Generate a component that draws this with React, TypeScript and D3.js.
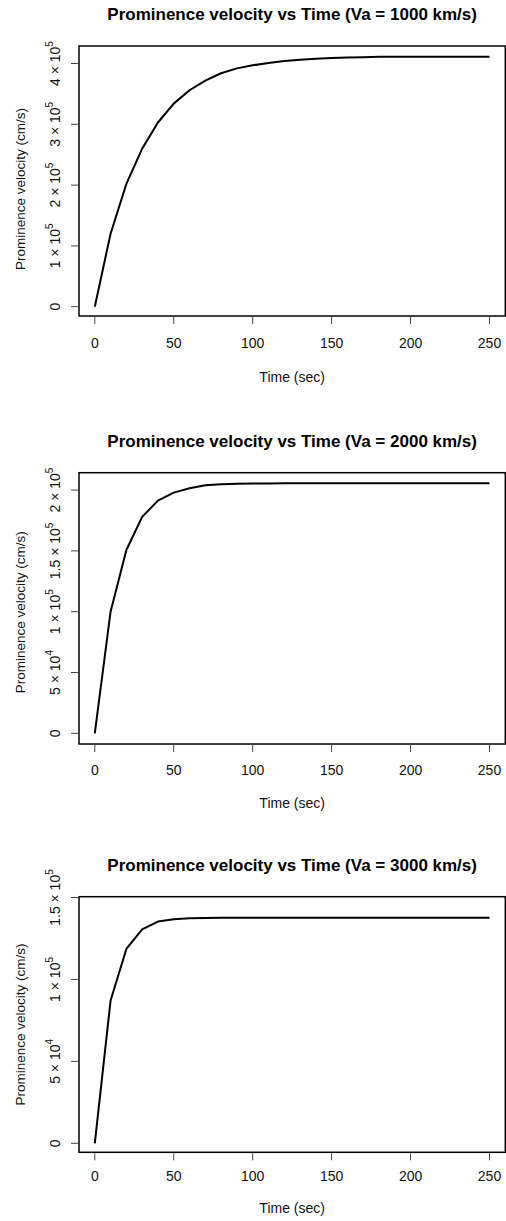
import React from "react";
import * as d3 from "d3";

const times = [0, 10, 20, 30, 40, 50, 60, 70, 80, 90, 100, 110, 120, 130, 140, 150, 160, 170, 180, 190, 200, 210, 220, 230, 240, 250];

const velocity1000 = [0, 120000, 202000, 260000, 303000, 334000, 356000, 372000, 384000, 392000, 397000, 401000, 404000, 406000, 408000, 409000, 410000, 410500, 411000, 411200, 411200, 411200, 411200, 411200, 411200, 411200];
const velocity2000 = [0, 100000, 150700, 178000, 191300, 197900, 201500, 203900, 204800, 205200, 205400, 205500, 205600, 205600, 205600, 205600, 205600, 205600, 205600, 205600, 205600, 205600, 205600, 205600, 205600, 205600];
const velocity3000 = [0, 87100, 118600, 130600, 135300, 136700, 137300, 137500, 137700, 137700, 137700, 137700, 137700, 137700, 137700, 137700, 137700, 137700, 137700, 137700, 137700, 137700, 137700, 137700, 137700, 137700];

const titles = [
  "Prominence velocity vs Time (Va = 1000 km/s)",
  "Prominence velocity vs Time (Va = 2000 km/s)",
  "Prominence velocity vs Time (Va = 3000 km/s)",
];

const xTicks = [0, 50, 100, 150, 200, 250];
const yTicks1 = [0, 100000, 200000, 300000, 400000];
const yTicks2 = [0, 50000, 100000, 150000, 200000];
const yTicks3 = [0, 50000, 100000, 150000];
const yTickMantissa1 = ["0", "1", "2", "3", "4"];
const yTickMantissa2 = ["0", "5", "1", "1.5", "2"];
const yTickMantissa3 = ["0", "5", "1", "1.5"];
const yTickExp1 = ["", "5", "5", "5", "5"];
const yTickExp2 = ["", "4", "5", "5", "5"];
const yTickExp3 = ["", "4", "5", "5"];

const xLabel = "Time (sec)";
const yLabel = "Prominence velocity (cm/s)";

// layout (pixels) per panel
const layouts = [
  { top: 46, bottom: 316, yDomain: [-15300, 428800], titleY: 19.5, tickY: 348.3, xlabY: 382, ylabDy: 8 },
  { top: 472.7, bottom: 744, yDomain: [-8800, 214300], titleY: 446.7, tickY: 775, xlabY: 808, ylabDy: 4 },
  { top: 896.7, bottom: 1152.3, yDomain: [-5500, 150500], titleY: 871, tickY: 1180.7, xlabY: 1213, ylabDy: 0 },
];

const series = [velocity1000, velocity2000, velocity3000];
const yTicksAll = [yTicks1, yTicks2, yTicks3];
const mantAll = [yTickMantissa1, yTickMantissa2, yTickMantissa3];
const expAll = [yTickExp1, yTickExp2, yTickExp3];

const LEFT = 79;
const RIGHT = 505.3;
const FONT = "'Liberation Sans', Arial, Helvetica, sans-serif";

function Panel({ idx }: { idx: number }) {
  const L = layouts[idx];
  const x = d3.scaleLinear().domain([-10, 260]).range([LEFT, RIGHT]);
  const y = d3.scaleLinear().domain(L.yDomain).range([L.bottom, L.top]);
  const vals = series[idx];
  const line = d3
    .line<number>()
    .x((_, i) => x(times[i]))
    .y((d) => y(d));
  const cx = (LEFT + RIGHT) / 2;
  const cy = (L.top + L.bottom) / 2;
  return (
    <g>
      <text x={cx} y={L.titleY} textAnchor="middle" fontFamily={FONT} fontWeight="bold" fontSize={17} fill="#000">
        {titles[idx]}
      </text>
      <path d={line(vals) || ""} fill="none" stroke="#000" strokeWidth={2} strokeLinejoin="round" />
      <rect x={LEFT} y={L.top} width={RIGHT - LEFT} height={L.bottom - L.top} fill="none" stroke="#000" strokeWidth={1.5} />
      {xTicks.map((t) => (
        <g key={"x" + t}>
          <line x1={x(t)} x2={x(t)} y1={L.bottom + 1} y2={L.bottom + 8} stroke="#444" strokeWidth={1} />
          <text x={x(t)} y={L.tickY} textAnchor="middle" fontFamily={FONT} fontSize={14} fill="#111">
            {t}
          </text>
        </g>
      ))}
      {yTicksAll[idx].map((v, i) => (
        <g key={"y" + v}>
          <line x1={LEFT - 8} x2={LEFT - 1} y1={y(v)} y2={y(v)} stroke="#444" strokeWidth={1} />
          <text
            transform={`translate(60,${y(v)}) rotate(-90)`}
            textAnchor="middle"
            fontFamily={FONT}
            fontSize={14}
            fill="#111"
          >
            {expAll[idx][i] === "" ? (
              mantAll[idx][i]
            ) : (
              <>
                <tspan>{mantAll[idx][i] + " \u00d7 10"}</tspan>
                <tspan fontSize={10} dy={-7}>{expAll[idx][i]}</tspan>
              </>
            )}
          </text>
        </g>
      ))}
      <text x={cx} y={L.xlabY} textAnchor="middle" fontFamily={FONT} fontSize={14} fill="#111">
        {xLabel}
      </text>
      <text
        transform={`translate(25,${cy + L.ylabDy}) rotate(-90)`}
        textAnchor="middle"
        fontFamily={FONT}
        fontSize={13.5}
        fill="#111"
      >
        {yLabel}
      </text>
    </g>
  );
}

export default function App() {
  return (
    <svg
      width={506}
      height={1221}
      style={{ position: "absolute", left: 0, top: 0, background: "#fff" }}
    >
      <rect x={0} y={0} width={506} height={1221} fill="#fff" />
      {[0, 1, 2].map((i) => (
        <Panel key={i} idx={i} />
      ))}
    </svg>
  );
}
